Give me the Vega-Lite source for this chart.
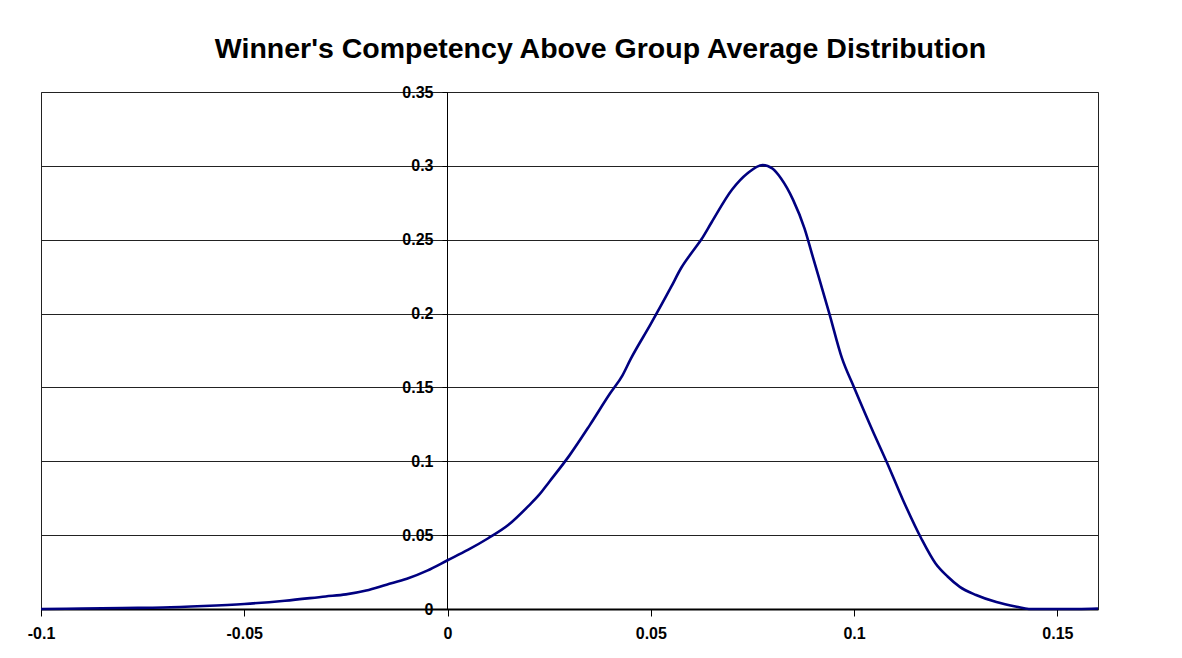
{
  "$schema": "https://vega.github.io/schema/vega-lite/v6.json",
  "width": 1057,
  "height": 517,
  "autosize": "none",
  "padding": {"left": 41, "top": 92, "right": 84, "bottom": 49},
  "background": "white",
  "title": {
    "text": "Winner's Competency Above Group Average Distribution",
    "font": "Liberation Sans",
    "fontSize": 28.5,
    "fontWeight": "bold",
    "color": "black",
    "frame": "group",
    "anchor": "middle",
    "baseline": "alphabetic",
    "offset": 34,
    "dy": 36,
    "dx": 31
  },
  "config": {
    "view": {"stroke": "#222", "strokeWidth": 1},
    "axis": {
      "labelFont": "Liberation Sans",
      "labelFontSize": 16,
      "labelFontWeight": "bold",
      "labelColor": "black",
      "domainColor": "black",
      "tickColor": "black",
      "gridColor": "#222",
      "gridOpacity": 1
    }
  },
  "data": {
    "values": [
      {"x": -0.1, "y": 0.0},
      {"x": -0.09, "y": 0.0003},
      {"x": -0.08, "y": 0.0007},
      {"x": -0.07, "y": 0.001},
      {"x": -0.06, "y": 0.002},
      {"x": -0.05, "y": 0.0034},
      {"x": -0.04, "y": 0.0056},
      {"x": -0.03, "y": 0.0085},
      {"x": -0.025, "y": 0.0099},
      {"x": -0.02, "y": 0.0125},
      {"x": -0.015, "y": 0.0165},
      {"x": -0.01, "y": 0.0205},
      {"x": -0.005, "y": 0.026},
      {"x": 0.0, "y": 0.033},
      {"x": 0.005, "y": 0.04},
      {"x": 0.01, "y": 0.0479},
      {"x": 0.015, "y": 0.057},
      {"x": 0.02, "y": 0.07},
      {"x": 0.0225, "y": 0.0772},
      {"x": 0.025, "y": 0.086},
      {"x": 0.03, "y": 0.104},
      {"x": 0.035, "y": 0.1245},
      {"x": 0.04, "y": 0.146},
      {"x": 0.043, "y": 0.158},
      {"x": 0.045, "y": 0.169},
      {"x": 0.05, "y": 0.193},
      {"x": 0.055, "y": 0.218},
      {"x": 0.0575, "y": 0.231},
      {"x": 0.06, "y": 0.241},
      {"x": 0.0625, "y": 0.2505},
      {"x": 0.065, "y": 0.262},
      {"x": 0.07, "y": 0.284},
      {"x": 0.0738, "y": 0.295},
      {"x": 0.0775, "y": 0.3006},
      {"x": 0.08, "y": 0.298},
      {"x": 0.082, "y": 0.2916},
      {"x": 0.085, "y": 0.277},
      {"x": 0.0878, "y": 0.2577},
      {"x": 0.09, "y": 0.237},
      {"x": 0.0939, "y": 0.2002},
      {"x": 0.097, "y": 0.17},
      {"x": 0.1, "y": 0.15},
      {"x": 0.105, "y": 0.118},
      {"x": 0.108, "y": 0.0997},
      {"x": 0.112, "y": 0.074},
      {"x": 0.1165, "y": 0.0479},
      {"x": 0.12, "y": 0.031},
      {"x": 0.123, "y": 0.022},
      {"x": 0.126, "y": 0.015},
      {"x": 0.13, "y": 0.0095},
      {"x": 0.135, "y": 0.0047},
      {"x": 0.14, "y": 0.0015},
      {"x": 0.143, "y": 0.0},
      {"x": 0.15, "y": 0.0},
      {"x": 0.155, "y": 0.0},
      {"x": 0.16, "y": 0.0003}
    ]
  },
  "mark": {"type": "line", "color": "#000080", "strokeWidth": 2.6, "interpolate": "monotone"},
  "encoding": {
    "x": {
      "field": "x",
      "type": "quantitative",
      "scale": {"domain": [-0.1, 0.16], "nice": false, "zero": false},
      "axis": {
        "title": null,
        "values": [-0.1, -0.05, 0, 0.05, 0.1, 0.15],
        "labelExpr": "replace(format(datum.value, '~g'), '−', '-')",
        "grid": false,
        "domainWidth": 2,
        "tickSize": 7,
        "labelPadding": 9,
        "labelFlush": false
      }
    },
    "y": {
      "field": "y",
      "type": "quantitative",
      "scale": {"domain": [0, 0.35], "nice": false},
      "axis": {
        "title": null,
        "values": [0, 0.05, 0.1, 0.15, 0.2, 0.25, 0.3, 0.35],
        "format": "~g",
        "offset": -406,
        "grid": true,
        "tickSize": 5,
        "labelPadding": 9
      }
    }
  }
}
